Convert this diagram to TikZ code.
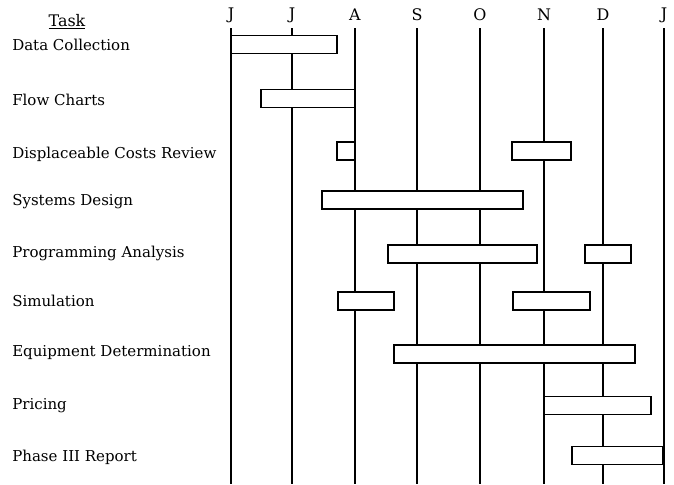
\documentclass[tikz,border=0pt]{standalone}
\usepackage{fontspec}
\setmainfont{DejaVu Serif}
\begin{document}
\begin{tikzpicture}[x=0.02646cm,y=-0.02646cm,
    bar/.style={draw,line width=1.3pt,fill=white},
    month/.style={font=\fontsize{12}{14}\selectfont},
    task/.style={anchor=west,inner sep=0pt,font=\fontsize{11.3}{13}\selectfont}]
\useasboundingbox (0,0) rectangle (674,484);
%months
\foreach \m/\x [count=\i] in {J/231,J/292,A/355,S/417,O/480,N/544,D/603,J/664}
{
    \node[month] (m\i) at (\x,15) {\m};
    \coordinate (top\i) at (\x,28);
    \coordinate (bot\i) at (\x,484);
    \draw[line width=1.3pt] (top\i) -- (bot\i);
}
%tasks
\node[month] (head) at (67,22) {\underline{Task}};
\foreach \t/\y [count=\i] in {Data Collection/45,Flow Charts/100,Displaceable Costs Review/154,
    Systems Design/202,Programming Analysis/253,Simulation/301,Equipment Determination/353,
    Pricing/406,Phase III Report/457}
    \node[task] (task\i) at (12,\y) {\t};
%bars
\foreach \y/\a/\b in {44.5/231/337, 98.5/261/355, 151/337/355, 151/512/571, 200/322/523,
    254/388/537, 254/585/631, 301/338/394, 301/513/590, 354/394/635, 405.5/544/651, 455.5/572/663}
    \draw[bar] (\a,\y-9) rectangle (\b,\y+9);
\end{tikzpicture}
\end{document}
